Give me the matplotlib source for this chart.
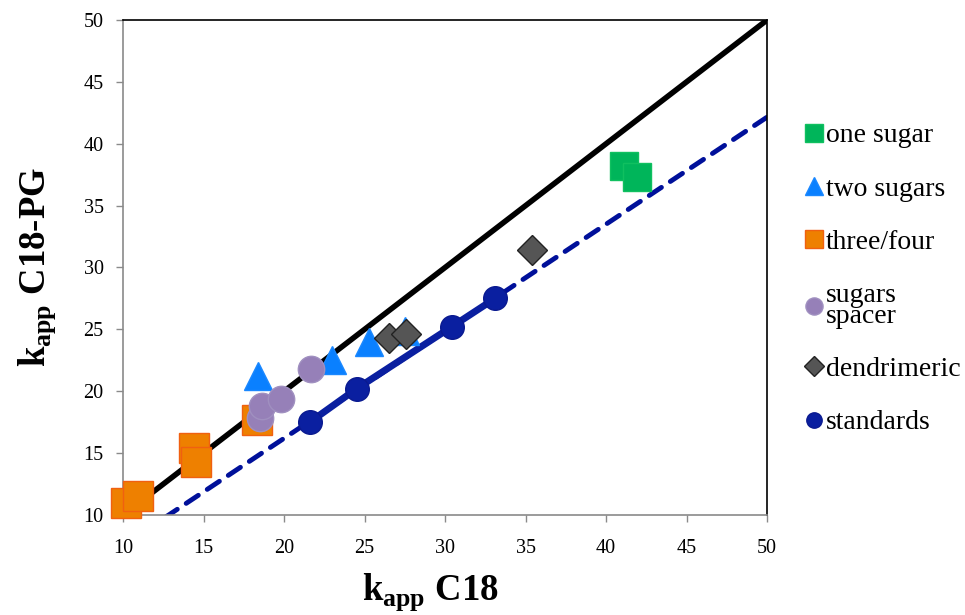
import matplotlib
matplotlib.use("Agg")
import matplotlib.pyplot as plt
import numpy as np

plt.rcParams['font.family'] = ['Liberation Serif', 'DejaVu Serif']
plt.rcParams['mathtext.fontset'] = 'custom'
plt.rcParams['mathtext.rm'] = 'Liberation Serif'
plt.rcParams['mathtext.bf'] = 'Liberation Serif:bold'

# ---- data ----
one_sugar_x = [41.1, 41.9]
one_sugar_y = [38.2, 37.3]

two_sugars_x = [18.4, 23.0, 25.3, 27.5]
two_sugars_y = [21.2, 22.5, 24.0, 24.9]

three_four_x = [10.2, 10.9, 14.4, 14.5, 18.3]
three_four_y = [11.0, 11.5, 15.4, 14.3, 17.7]

spacer_x = [18.5, 18.6, 19.8, 21.7]
spacer_y = [17.8, 18.8, 19.4, 21.8]

dendri_x = [26.5, 27.6, 35.4]
dendri_y = [24.3, 24.6, 31.4]

standards_x = [21.6, 24.5, 30.4, 33.1]
standards_y = [17.5, 20.2, 25.2, 27.5]

legend_labels = ["one sugar", "two sugars", "three/four", "sugars\nspacer",
                 "dendrimeric", "standards"]
ticks = [10, 15, 20, 25, 30, 35, 40, 45, 50]

fig = plt.figure(figsize=(9.65, 6.15), dpi=100)
ax = fig.add_axes([0.1275, 0.1626, 0.6675, 0.805])

# identity line
ax.plot([10, 50], [10, 50], color='black', lw=4, zorder=2)

# trend line of standards
slope, icpt = np.polyfit(standards_x, standards_y, 1)
xs = np.array([10, 50])
ax.plot(xs, slope * xs + icpt, color='#00109A', lw=3.5, ls=(0, (3, 2.2)),
        dash_capstyle='round', zorder=2)

h1, = ax.plot(one_sugar_x, one_sugar_y, 's', ms=20, color='#00B55A',
              mec='#10C060', mew=1, zorder=4, clip_on=False)
h2, = ax.plot(two_sugars_x, two_sugars_y, '^', ms=20, color='#0A80FF',
              mec='#1A88FF', mew=1, zorder=4, clip_on=False)
h3, = ax.plot(three_four_x, three_four_y, 's', ms=21, color='#EE8000',
              mec='#F06010', mew=1, zorder=4, clip_on=False)
h4, = ax.plot(spacer_x, spacer_y, 'o', ms=19, color='#9680B8',
              mec='#A090C0', mew=1, zorder=5, clip_on=False)
h5, = ax.plot(dendri_x, dendri_y, 'D', ms=15, color='#555555',
              mec='#222222', mew=1, zorder=5, clip_on=False)
h6, = ax.plot(standards_x, standards_y, '-o', ms=17, lw=5, color='#0A1FA0',
              mec='#0A1A90', mew=1, zorder=3, clip_on=False)

ax.set_xlim(10, 50)
ax.set_ylim(10, 50)
ax.set_xticks(ticks)
ax.set_yticks(ticks)
ax.tick_params(axis='both', labelsize=14.5, length=5, width=1, color='#8a8a8a')
ax.tick_params(axis='x', pad=12)
ax.tick_params(axis='y', pad=9)
for s in ['left', 'bottom']:
    ax.spines[s].set_color('#8a8a8a')
    ax.spines[s].set_linewidth(1.2)
for s in ['top', 'right']:
    ax.spines[s].set_color('black')
    ax.spines[s].set_linewidth(1.2)

ax.set_xlabel(r'$\mathbf{k}_{\mathbf{app}}$ C18', fontsize=26.5,
              fontweight='bold', labelpad=10, x=0.477)
ax.set_ylabel(r'$\mathbf{k}_{\mathbf{app}}$ C18-PG', fontsize=26.5,
              fontweight='bold', labelpad=18)

leg = fig.legend([h1, h2, h3, h4, h5, h6], legend_labels,
                 loc='upper left', bbox_to_anchor=(0.823, 0.818),
                 frameon=False, fontsize=20, markerscale=0.65,
                 handlelength=0.6, handletextpad=0.15, labelspacing=1.0,
                 borderaxespad=0)
for line in leg.get_lines():
    line.set_linestyle('none')
for t in leg.get_texts():
    t.set_linespacing(0.8)

fig.savefig('out.png', dpi=100)
